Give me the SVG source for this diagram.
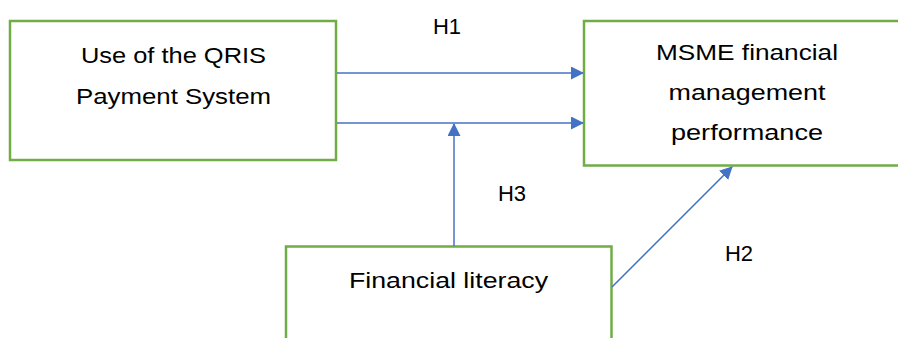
<svg xmlns="http://www.w3.org/2000/svg" width="898" height="338" viewBox="0 0 898 338">
<style>
.box{fill:#fff;stroke:#70AD47;stroke-width:2.5}
.t{font-family:"Liberation Sans",Arial,sans-serif;font-size:22px;fill:#000;text-anchor:middle}
.c{stroke:#4472C4;stroke-width:1.5;fill:none}
</style>
<defs>
<marker id="ah" markerWidth="13" markerHeight="13" refX="12" refY="6.5" orient="auto" markerUnits="userSpaceOnUse">
<path d="M0,0 L13,6.5 L0,13 Z" fill="#4472C4"/>
</marker>
</defs>
<rect width="898" height="338" fill="#fff"/>
<g id="node-qris">
<rect class="box" x="10" y="21" width="326" height="139"/>
<text class="t" x="173.5" y="63" textLength="185" lengthAdjust="spacingAndGlyphs">Use of the QRIS</text>
<text class="t" x="173.5" y="104" textLength="195" lengthAdjust="spacingAndGlyphs">Payment System</text>
</g>
<g id="node-msme">
<rect class="box" x="584" y="21" width="320" height="144.5"/>
<text class="t" x="747" y="60" textLength="182" lengthAdjust="spacingAndGlyphs">MSME financial</text>
<text class="t" x="747" y="100" textLength="157" lengthAdjust="spacingAndGlyphs">management</text>
<text class="t" x="747" y="140" textLength="152" lengthAdjust="spacingAndGlyphs">performance</text>
</g>
<g id="node-literacy">
<rect class="box" x="286" y="246.5" width="325.5" height="100"/>
<text class="t" x="448.5" y="288" textLength="199" lengthAdjust="spacingAndGlyphs">Financial literacy</text>
</g>
<g id="connectors">
<line class="c" x1="337" y1="73" x2="583" y2="73" marker-end="url(#ah)"/>
<line class="c" x1="337" y1="123" x2="583" y2="123" marker-end="url(#ah)"/>
<line class="c" x1="454" y1="246" x2="454" y2="124" marker-end="url(#ah)"/>
<line class="c" x1="612" y1="287" x2="732" y2="167" marker-end="url(#ah)"/>
<text class="t" x="447" y="34">H1</text>
<text class="t" x="512" y="200.5">H3</text>
<text class="t" x="739" y="261">H2</text>
</g>
</svg>
